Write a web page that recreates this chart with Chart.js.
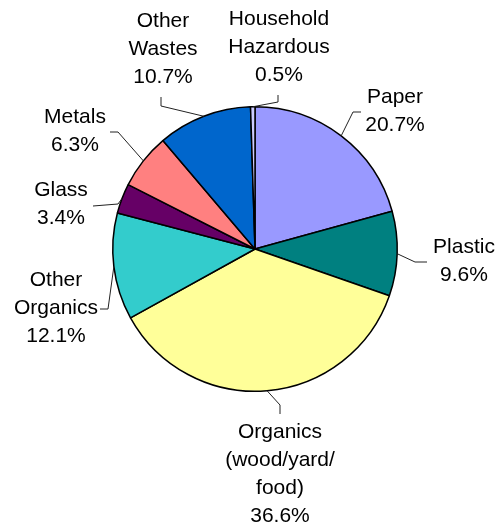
<!DOCTYPE html>
<html>
<head>
<meta charset="utf-8">
<script src="https://cdn.jsdelivr.net/npm/chart.js@4/dist/chart.umd.min.js"></script>
<style>
  html, body { margin: 0; padding: 0; background: #fff; }
  #wrap { width: 498px; height: 527px; position: relative; }
</style>
</head>
<body>
<div id="wrap"><canvas id="wasteChart"></canvas></div>
<script>
// waste composition, clockwise from 12 o'clock
var categories = ["Paper", "Plastic", "Organics (wood/yard/ food)", "Other Organics", "Glass", "Metals", "Other Wastes", "Household Hazardous"];
var percents = [20.7, 9.6, 36.6, 12.1, 3.4, 6.3, 10.7, 0.5];
var labelLines = [
	["Paper"], ["Plastic"], ["Organics", "(wood/yard/", "food)"], ["Other", "Organics"],
	["Glass"], ["Metals"], ["Other", "Wastes"], ["Household", "Hazardous"]
];
var sliceColors = ["#9999FF", "#008080", "#FFFF99", "#33CCCC", "#660066", "#FF8080", "#0066CC", "#CCCCFF"];

// where each label sits: text centre x, first line y, leader elbow and end
var labelLayout = [
	{ x: 395, y: 97,  elbow: [353, 112], end: [361, 112] },
	{ x: 464, y: 247, elbow: [415, 262], end: [427, 262] },
	{ x: 280, y: 432, elbow: [280, 405], end: [280, 414] },
	{ x: 56,  y: 280, elbow: [108, 309], end: [100, 309] },
	{ x: 61,  y: 190, elbow: [118, 204], end: [93, 206] },
	{ x: 75,  y: 117, elbow: [118, 132], end: [110, 132] },
	{ x: 163, y: 21,  elbow: [161, 106], end: [161, 97] },
	{ x: 279, y: 19,  elbow: [278, 102], end: [278, 95] }
];

var outsideLabels = {
	id: 'outsideLabels',
	afterDatasetsDraw: function(chart) {
		var ctx = chart.ctx;
		var arcs = chart.getDatasetMeta(0).data;
		ctx.save();
		ctx.strokeStyle = '#222';
		ctx.lineWidth = 1;
		arcs.forEach(function(arc, i) {
			var mid = (arc.startAngle + arc.endAngle) / 2;
			var ax = arc.x + Math.cos(mid) * arc.outerRadius;
			var ay = arc.y + Math.sin(mid) * arc.outerRadius;
			var lay = labelLayout[i];
			ctx.beginPath();
			ctx.moveTo(ax, ay);
			ctx.lineTo(lay.elbow[0], lay.elbow[1]);
			ctx.lineTo(lay.end[0], lay.end[1]);
			ctx.stroke();
		});
		ctx.fillStyle = '#000';
		ctx.font = '21px "Liberation Sans", Arial, sans-serif';
		ctx.textAlign = 'center';
		ctx.textBaseline = 'middle';
		labelLines.forEach(function(lines, i) {
			var lay = labelLayout[i];
			var all = lines.concat([percents[i].toFixed(1) + '%']);
			all.forEach(function(t, k) {
				ctx.fillText(t, lay.x, lay.y + k * 28);
			});
		});
		ctx.restore();
	}
};

var ctx = document.getElementById("wasteChart").getContext("2d");
var wasteChart = new Chart(ctx, {
	type: 'pie',
	data: {
		labels: categories,
		datasets: [{
			data: percents,
			backgroundColor: sliceColors,
			borderColor: '#000',
			borderWidth: 1.5,
			hoverOffset: 0
		}]
	},
	options: {
		responsive: true,
		maintainAspectRatio: false,
		animation: false,
		layout: { padding: { left: 112, right: 100, top: 106, bottom: 135 } },
		plugins: {
			legend: { display: false },
			tooltip: { enabled: false }
		}
	},
	plugins: [outsideLabels]
});
</script>
</body>
</html>
